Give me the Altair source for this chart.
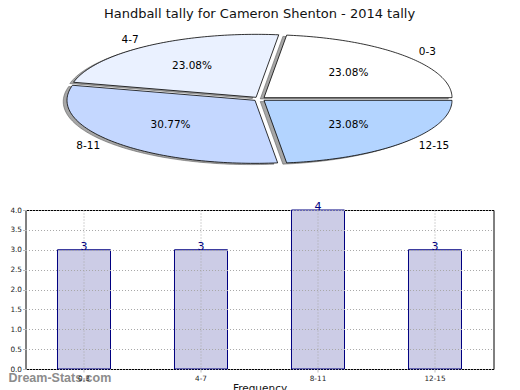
import altair as alt
import pandas as pd

# ---- data ----
categories = ["0-3", "4-7", "8-11", "12-15"]
counts = [3, 3, 4, 3]
slice_colors = ["#ffffff", "#eaf1ff", "#c4d7ff", "#b3d4ff"]
y_ticks = [0.0, 0.5, 1.0, 1.5, 2.0, 2.5, 3.0, 3.5, 4.0]
title_text = "Handball tally for Cameron Shenton - 2014 tally"
watermark = ["Dream-Stats.com"]

pie_df = pd.DataFrame({"cat": categories, "value": counts, "ord": list(range(len(categories)))})
bar_df = pd.DataFrame({"cat": categories, "value": counts})

EXPLODE = 0.032
N = 80
SHX, SHY = -0.02, -0.02
DX, DY = 1.2447, 1.1905
FONT = "DejaVu Sans"

xs = alt.Scale(domain=[-DX, DX])
ys = alt.Scale(domain=[-DY, DY])


def pie_base():
    return (
        alt.Chart(pie_df)
        .transform_window(cum="sum(value)", sort=[alt.SortField("ord")])
        .transform_joinaggregate(total="sum(value)")
        .transform_calculate(
            a0="2*PI*(datum.cum - datum.value)/datum.total",
            a1="2*PI*datum.cum/datum.total",
        )
        .transform_calculate(mid="(datum.a0 + datum.a1)/2")
        .transform_calculate(
            ox=f"{EXPLODE}*cos(datum.mid)",
            oy=f"{EXPLODE}*sin(datum.mid)",
            pct="format(100*datum.value/datum.total, '.2f') + '%'",
        )
    )


def polygon(shift_x, shift_y):
    return (
        pie_base()
        .transform_calculate(idx=f"sequence(0, {N + 3})")
        .transform_flatten(["idx"])
        .transform_calculate(
            t=f"clamp((datum.idx - 1)/{N}, 0, 1)",
            edge=f"datum.idx >= 1 && datum.idx <= {N + 1}",
        )
        .transform_calculate(th="datum.a0 + datum.t*(datum.a1 - datum.a0)")
        .transform_calculate(
            px=f"datum.ox + (datum.edge ? cos(datum.th) : 0) + ({shift_x})",
            py=f"datum.oy + (datum.edge ? sin(datum.th) : 0) + ({shift_y})",
        )
    )


shadow = polygon(SHX, SHY).mark_line(
    fill="#4d4d4d", fillOpacity=0.5, stroke="#4d4d4d", strokeOpacity=0.5, strokeWidth=1
).encode(
    x=alt.X("px:Q", scale=xs, axis=None),
    y=alt.Y("py:Q", scale=ys, axis=None),
    order=alt.Order("idx:Q"),
    detail="cat:N",
)

slices = polygon(0, 0).mark_line(stroke="black", strokeWidth=0.8).encode(
    x=alt.X("px:Q", scale=xs, axis=None),
    y=alt.Y("py:Q", scale=ys, axis=None),
    order=alt.Order("idx:Q"),
    detail="cat:N",
    fill=alt.Fill("cat:N", scale=alt.Scale(domain=categories, range=slice_colors), legend=None),
)

lab = pie_base().transform_calculate(
    lx="datum.ox + 1.1*cos(datum.mid)",
    ly="datum.oy + 1.1*sin(datum.mid)",
    qx="datum.ox + 0.6*cos(datum.mid)",
    qy="datum.oy + 0.6*sin(datum.mid)",
    right="cos(datum.mid) > 0",
)

lab_right = lab.transform_filter("datum.right").mark_text(
    align="left", baseline="middle", font=FONT, fontSize=10.5, color="black"
).encode(x=alt.X("lx:Q", scale=xs, axis=None), y=alt.Y("ly:Q", scale=ys, axis=None), text="cat:N")

lab_left = lab.transform_filter("!datum.right").mark_text(
    align="right", baseline="middle", font=FONT, fontSize=10.5, color="black"
).encode(x=alt.X("lx:Q", scale=xs, axis=None), y=alt.Y("ly:Q", scale=ys, axis=None), text="cat:N")

pct = lab.mark_text(
    align="center", baseline="middle", font=FONT, fontSize=10.5, color="black"
).encode(x=alt.X("qx:Q", scale=xs, axis=None), y=alt.Y("qy:Q", scale=ys, axis=None), text="pct:N")

pie = alt.layer(shadow, slices, lab_right, lab_left, pct).properties(
    width=468, height=150, view=alt.ViewBackground(stroke="transparent")
)

# ---- bar chart ----
xenc = alt.X(
    "cat:N",
    sort=categories,
    scale=alt.Scale(paddingInner=0, paddingOuter=0),
    axis=alt.Axis(
        title="Frequency",
        labelAngle=0,
        bandPosition=0.5,
        grid=True,
        zindex=1,
        labelFontSize=7.3,
        titleFontSize=10.5,
        titlePadding=2,
        labelPadding=2,
    ),
)
yenc = alt.Y(
    "value:Q",
    scale=alt.Scale(domain=[0, 4]),
    axis=alt.Axis(
        title="Stat Intervals",
        values=y_ticks,
        format=".1f",
        grid=True,
        zindex=1,
        labelOverlap=False,
        labelFontSize=7.3,
        labelPadding=1,
        titleFontSize=10.5,
        titleAngle=270,
        titleBaseline="bottom",
        titleX=-18,
        titleY=79.5,
        titleAlign="center",
    ),
)

bars = alt.Chart(bar_df).mark_bar(
    fill="#ccccE6", stroke="#000080", strokeWidth=1, width=alt.RelativeBandSize(0.453)
).encode(x=xenc, y=yenc)

vals = alt.Chart(bar_df).mark_text(
    baseline="alphabetic", font=FONT, fontSize=11, color="#000080", dy=0
).encode(x=xenc, y=yenc, text="value:Q")

wm = alt.Chart(pd.DataFrame({"t": watermark})).mark_text(
    align="left", baseline="alphabetic", font="Liberation Sans", fontWeight="bold",
    fontSize=12.5, color="#8c8c8c"
).encode(x=alt.value(-17), y=alt.value(172), text="t:N")

bar = alt.layer(bars, vals, wm).properties(width=468, height=159)

chart = (
    alt.vconcat(pie, bar, spacing=36, bounds="flush")
    .properties(
        title=alt.TitleParams(
            title_text, font=FONT, fontSize=13, fontWeight="normal", color="#111111",
            anchor="middle", frame="group", offset=2.5,
        ),
        padding={"left": -11.5, "top": 0, "right": 5, "bottom": 5},
    )
    .configure_view(stroke="black", strokeWidth=1)
    .configure_axis(
        labelFont=FONT,
        titleFont=FONT,
        labelColor="#222222",
        titleColor="#111111",
        titleFontWeight="normal",
        domain=False,
        tickColor="#bbbbbb",
        tickSize=3,
        gridColor="#a8a8a8",
        gridDash=[1, 2],
        gridWidth=1,
    )
)

chart.save("out.html", embed_options={"renderer": "svg", "actions": False})
